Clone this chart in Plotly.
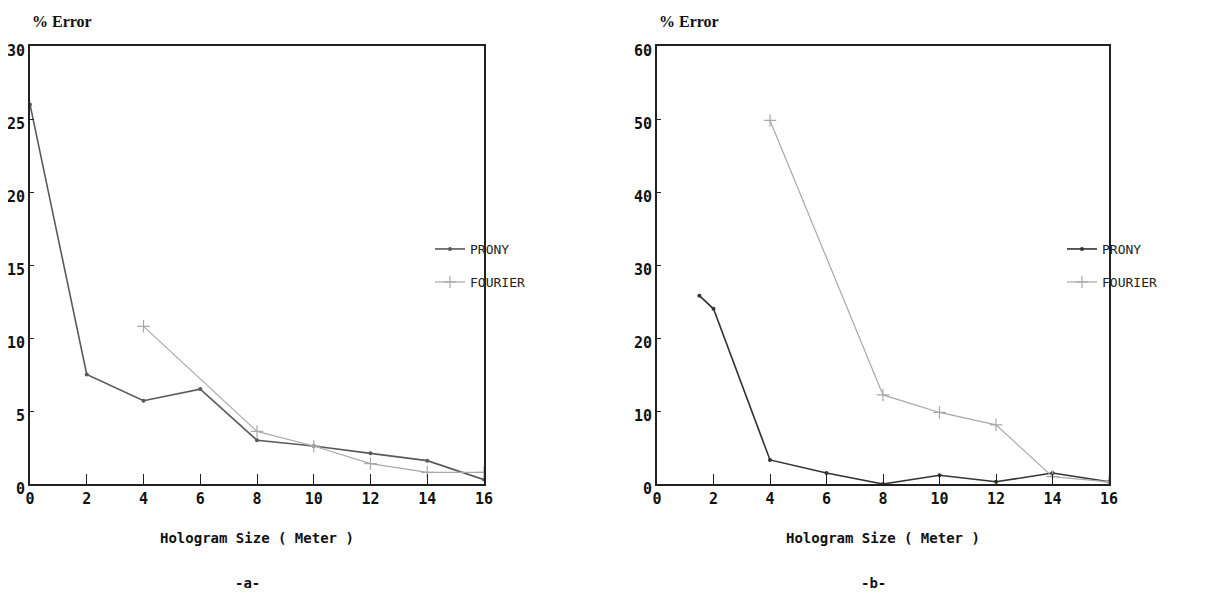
import plotly.graph_objects as go

# ---- data ----
a_prony_x = [0, 2, 4, 6, 8, 10, 12, 14, 16]
a_prony_y = [26.0, 7.5, 5.7, 6.5, 3.0, 2.6, 2.1, 1.6, 0.3]
a_fourier_x = [4, 8, 10, 12, 14, 16]
a_fourier_y = [10.8, 3.6, 2.6, 1.4, 0.8, 0.8]

b_prony_x = [1.5, 2, 4, 6, 8, 10, 12, 14, 16]
b_prony_y = [25.8, 24.0, 3.3, 1.5, 0.0, 1.2, 0.3, 1.5, 0.3]
b_fourier_x = [4, 8, 10, 12, 14, 16]
b_fourier_y = [49.8, 12.2, 9.8, 8.1, 1.0, 0.3]

x_ticks = [0, 2, 4, 6, 8, 10, 12, 14, 16]
a_y_ticks = [0, 5, 10, 15, 20, 25, 30]
b_y_ticks = [0, 10, 20, 30, 40, 50, 60]

W, H = 1205, 595
OFF = 8  # page body margin offset
FONT = "DejaVu Sans Mono"
PRONY_A = "#5a5a5a"
PRONY_B = "#333333"
FOURIER = "#a8a8a8"


def PX(x):
    return (x - OFF) / W


def PY(y):
    return (H - (y - OFF)) / H


fig = go.Figure()


def add_panel(px, py, fx, fy, xa, ya, leg_p, leg_f, prony_color):
    fig.add_trace(go.Scatter(x=px, y=py, mode="lines+markers", name="PRONY",
                             line=dict(color=prony_color, width=1.6),
                             marker=dict(symbol="circle", size=4, color=prony_color),
                             xaxis=xa, yaxis=ya, legend=leg_p))
    fig.add_trace(go.Scatter(x=fx, y=fy, mode="lines+markers", name="FOURIER",
                             line=dict(color=FOURIER, width=1.2),
                             marker=dict(symbol="cross-thin", size=9,
                                         line=dict(color=FOURIER, width=1.2)),
                             xaxis=xa, yaxis=ya, legend=leg_f))


add_panel(a_prony_x, a_prony_y, a_fourier_x, a_fourier_y, "x", "y", "legend", "legend3", PRONY_A)
add_panel(b_prony_x, b_prony_y, b_fourier_x, b_fourier_y, "x2", "y2", "legend2", "legend4", PRONY_B)

ydom = [PY(484), PY(46)]
ax_common = dict(showgrid=False, zeroline=False, showline=True, linecolor="#222",
                 linewidth=2, mirror=True, ticks="inside", tickcolor="#222",
                 automargin=False,
                 tickfont=dict(family=FONT, size=15, color="#111", weight="bold"))

leg_font = dict(family=FONT, size=13, color="#222")


def leg(x, ycen):
    return dict(x=PX(x), y=PY(ycen), xanchor="left", yanchor="middle",
                bgcolor="rgba(0,0,0,0)", font=leg_font, itemwidth=30,
                borderwidth=0)


fig.update_layout(
    width=W, height=H, paper_bgcolor="white", plot_bgcolor="white",
    margin=dict(l=0, r=0, t=0, b=0), showlegend=True,
    xaxis=dict(domain=[PX(30), PX(484)], range=[0, 16], tickvals=x_ticks,
               ticklen=10, anchor="y", **ax_common),
    yaxis=dict(domain=ydom, range=[0, 30], tickvals=a_y_ticks, ticklen=4,
               anchor="x", ticklabelshift=5, **ax_common),
    xaxis2=dict(domain=[PX(657), PX(1109)], range=[0, 16], tickvals=x_ticks,
                ticklen=10, anchor="y2", **ax_common),
    yaxis2=dict(domain=ydom, range=[0, 60], tickvals=b_y_ticks, ticklen=4,
                anchor="x2", ticklabelshift=5, **ax_common),
    legend=leg(430, 249),
    legend3=leg(430, 282),
    legend2=leg(1062, 249),
    legend4=leg(1062, 282),
)

ann_font = dict(family=FONT, size=14, color="#111", weight="bold")
for cx, lab in [(257, "-a-"), (883, "-b-")]:
    fig.add_annotation(x=PX(cx), y=PY(538), xref="paper", yref="paper",
                       text="Hologram Size ( Meter )", showarrow=False, font=ann_font,
                       xanchor="center", yanchor="middle")
    fig.add_annotation(x=PX(cx - 10), y=PY(583), xref="paper", yref="paper",
                       text=lab, showarrow=False, font=ann_font,
                       xanchor="center", yanchor="middle")
for lx in [30, 657]:
    fig.add_annotation(x=PX(lx), y=PY(21), xref="paper", yref="paper",
                       text="% Error", showarrow=False,
                       font=dict(family="Liberation Serif", size=16, color="#111", weight="bold"),
                       xanchor="left", yanchor="middle")

fig.write_html("out.html")
